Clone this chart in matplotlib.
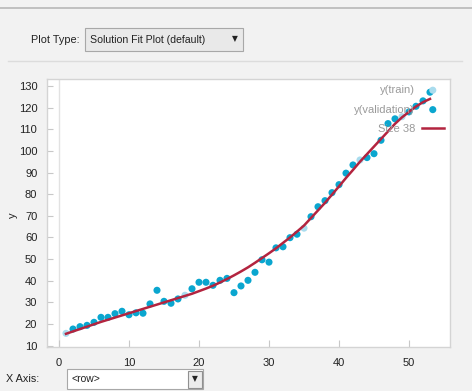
import matplotlib
matplotlib.use("Agg")
import matplotlib.pyplot as plt
from matplotlib.patches import Rectangle
from matplotlib.lines import Line2D
from matplotlib import font_manager

# ---------------- data ----------------
train_x = [1, 18, 35, 43, 49]
train_y = [15.7, 33.3, 64.3, 95.8, 115.8]

valid_x = [2, 3, 4, 5, 6, 7, 8, 9, 10, 11, 12, 13, 14, 15, 16, 17,
           19, 20, 21, 22, 23, 24, 25, 26, 27, 28, 29, 30, 31, 32, 33, 34,
           36, 37, 38, 39, 40, 41, 42, 44, 45, 46, 47, 48, 50, 51, 52, 53]
valid_y = [17.7, 18.8, 19.4, 20.8, 23.1, 23.1, 24.8, 25.9, 24.3, 25.2, 25.0, 29.3, 35.6, 30.5, 29.6, 31.6,
           36.3, 39.3, 39.3, 37.9, 40.2, 41.1, 34.5, 37.6, 40.2, 43.9, 49.7, 48.6, 55.2, 55.7, 59.9, 61.5,
           69.6, 74.2, 77.0, 80.7, 84.4, 89.7, 93.5, 96.9, 98.7, 104.9, 112.6, 114.8, 118.0, 120.6, 123.1, 127.1]

fit_x = list(range(1, 54))
fit_y = [15.5, 16.6, 17.7, 18.8, 19.9, 21.0, 22.0, 23.0, 24.0, 25.0,
         26.0, 27.0, 28.0, 29.0, 30.0, 31.0, 32.0, 33.0, 34.0, 35.2,
         36.4, 37.7, 39.2, 40.8, 42.5, 44.3, 46.2, 48.3, 50.5, 52.7,
         55.0, 57.5, 60.0, 62.7, 65.5, 69.0, 72.5, 76.0, 79.8, 83.6,
         87.5, 91.2, 95.0, 98.5, 102.0, 105.5, 109.0, 112.5, 115.5, 118.0,
         120.5, 122.5, 124.0]

xticks = [0, 10, 20, 30, 40, 50]
yticks = [10, 20, 30, 40, 50, 60, 70, 80, 90, 100, 110, 120, 130]
legend_labels = ["y(train)", "y(validation)", "Size 38"]

# ---------------- style ----------------
avail = {f.name for f in font_manager.fontManager.ttflist}
fam = [f for f in ["Liberation Sans Narrow", "Liberation Sans", "DejaVu Sans"] if f in avail]
plt.rcParams['font.family'] = fam

W, H = 472, 391
fig = plt.figure(figsize=(W / 100, H / 100), dpi=100, facecolor="#f2f2f2")

def fx(x):
    return x / W

def fy(y):
    return 1 - y / H

DARK = "#0aa6cf"
LIGHT = "#a9dcee"
RED = "#b3243f"
TXT = "#222222"

# UI chrome
fig.add_artist(Line2D([0, 1], [fy(8), fy(8)], transform=fig.transFigure, color="#b8b8b8", lw=1.2))
fig.add_artist(Line2D([fx(8), fx(462)], [fy(61), fy(61)], transform=fig.transFigure, color="#dcdcdc", lw=1))
fig.text(fx(31), fy(40), "Plot Type:", fontsize=7.8, color=TXT, va="center", ha="left")
fig.add_artist(Rectangle((fx(85), fy(51)), fx(243) - fx(85), fy(28) - fy(51), transform=fig.transFigure,
                         facecolor="#e9e9e9", edgecolor="#a8a8a8", lw=0.8))
fig.text(fx(90), fy(40), "Solution Fit Plot (default)", fontsize=7.6, color=TXT, va="center", ha="left")
fig.text(fx(235), fy(39), "\u25bc", fontsize=5.5, color="#222222", va="center", ha="center",
         family=["DejaVu Sans"])

fig.text(fx(6), fy(379), "X Axis:", fontsize=7.8, color=TXT, va="center", ha="left")
fig.add_artist(Rectangle((fx(67), fy(389)), fx(203) - fx(67), fy(369) - fy(389), transform=fig.transFigure,
                         facecolor="white", edgecolor="#a8a8a8", lw=0.8))
fig.add_artist(Rectangle((fx(188), fy(388)), fx(202) - fx(188), fy(371) - fy(388), transform=fig.transFigure,
                         facecolor="#ececec", edgecolor="#909090", lw=0.8))
fig.text(fx(72), fy(379), "<row>", fontsize=7.5, color=TXT, va="center", ha="left")
fig.text(fx(195), fy(379), "\u25bc", fontsize=5.5, color="#222222", va="center", ha="center",
         family=["DejaVu Sans"])

# axes
ax = fig.add_axes([fx(47), fy(347), fx(450) - fx(47), fy(79) - fy(347)])
ax.set_facecolor("white")
ax.set_xlim(-1.714, 55.857)
ax.set_ylim(9.4, 133.2)
for s in ax.spines.values():
    s.set_color("#d4d4d4")
    s.set_linewidth(1)
ax.axvline(0, color="#e2e2e2", lw=1, zorder=0)

ax.set_xticks(xticks)
ax.set_yticks(yticks)
ax.tick_params(axis="both", direction="in", colors="#c8c8c8", labelcolor=TXT, labelsize=8)
ax.tick_params(axis="x", length=5, pad=8)
ax.tick_params(axis="y", length=4, pad=7)
fig.text(fx(13), fy(215), "y", fontsize=8, color=TXT, rotation=90, va="center", ha="center")

ax.scatter(train_x, train_y, s=26, color=LIGHT, edgecolors="none", zorder=3, label=legend_labels[0])
ax.scatter(valid_x, valid_y, s=26, color=DARK, edgecolors="none", zorder=3, label=legend_labels[1])
ax.plot(fit_x, fit_y, color=RED, lw=1.8, zorder=4, label=legend_labels[2])

leg = ax.legend(loc="upper right", markerfirst=False, frameon=True, fontsize=8,
                borderaxespad=0, handlelength=2.0, handletextpad=0.6, labelspacing=0.85,
                borderpad=0.55, framealpha=0.0, fancybox=False)
leg.get_frame().set_edgecolor("#e0e0e0")
for t in leg.get_texts():
    t.set_color("#9a9a9a")
    t.set_ha("right")
leg.set_zorder(5)

fig.savefig("out.png", dpi=100, facecolor=fig.get_facecolor())
